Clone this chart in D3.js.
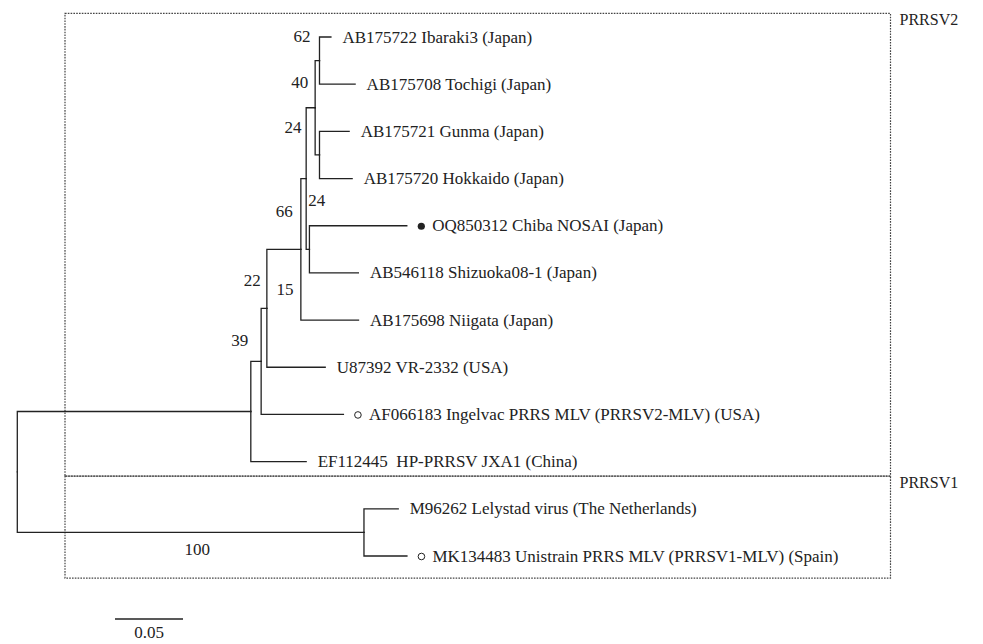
<!DOCTYPE html>
<html>
<head>
<meta charset="utf-8">
<script src="https://cdn.jsdelivr.net/npm/d3@7"></script>
<style>
  html, body { margin: 0; padding: 0; background: #fff; }
  svg { display: block; font-family: "Liberation Serif", "Times New Roman", "DejaVu Serif", serif; }
</style>
</head>
<body>
<svg id="tree" width="983" height="644"></svg>
<script>
// tree topology: node, its parent and the branch length (substitutions / site)
const nodeIds = ["root", "P2", "A", "C", "D", "E", "H", "I", "Ibaraki3", "Tochigi", "J", "Gunma", "Hokkaido",
    "F", "Chiba", "Shizuoka", "Niigata", "VR2332", "Ingelvac", "JXA1", "P1", "Lelystad", "Unistrain"];
const parentIds = [null, "root", "P2", "A", "C", "D", "E", "H", "I", "I", "H", "J", "J",
    "E", "F", "F", "D", "C", "A", "P2", "root", "P1", "P1"];
const branchLengths = [0, 0.1717, 0.0076, 0.0042, 0.0250, 0.0039, 0.0066, 0.0032, 0.0084, 0.0262, 0.0032, 0.0218, 0.0240,
    0.0024, 0.0716, 0.0360, 0.0424, 0.0429, 0.0605, 0.0407, 0.2549, 0.0252, 0.0316];

// tip labels
const tipIds = ["Ibaraki3", "Tochigi", "Gunma", "Hokkaido", "Chiba", "Shizuoka", "Niigata",
    "VR2332", "Ingelvac", "JXA1", "Lelystad", "Unistrain"];
const tipNames = [
    "AB175722 Ibaraki3 (Japan)",
    "AB175708 Tochigi (Japan)",
    "AB175721 Gunma (Japan)",
    "AB175720 Hokkaido (Japan)",
    "OQ850312 Chiba NOSAI (Japan)",
    "AB546118 Shizuoka08-1 (Japan)",
    "AB175698 Niigata (Japan)",
    "U87392 VR-2332 (USA)",
    "AF066183 Ingelvac PRRS MLV (PRRSV2-MLV) (USA)",
    "EF112445\u00a0 HP-PRRSV JXA1 (China)",
    "M96262 Lelystad virus (The Netherlands)",
    "MK134483 Unistrain PRRS MLV (PRRSV1-MLV) (Spain)"
];
// filled = field strain of this study, open = vaccine strain
const tipMarks = ["", "", "", "", "filled", "", "", "", "open", "", "", "open"];

// bootstrap support
const bootNodes = ["I", "H", "J", "E", "D", "F", "C", "A", "P1"];
const bootValues = [62, 40, 24, 24, 66, 15, 22, 39, 100];

const cladeNames = ["PRRSV2", "PRRSV1"];
const scaleBarLength = 0.05;

const svg = d3.select("#tree");
const ink = "#222";
const fontSize = 17;

// build hierarchy
const rows = nodeIds.map((id, i) => ({ id: id, parent: parentIds[i], bl: branchLengths[i] }));
const root = d3.stratify()
    .id(d => d.id)
    .parentId(d => d.parent)(rows);

const nTips = tipIds.length;
// cluster pads half a row at each end, so size = nTips puts tips at 0.5 .. nTips-0.5
d3.cluster().size([nTips, 1]).separation(() => 1)(root);
root.eachBefore(n => {
    n.len = n.parent ? n.parent.len + n.data.bl : 0;
    n.row = n.x - 0.5;
});

const xScale = d3.scaleLinear().domain([0, 0.3]).range([17.3, 17.3 + 0.3 * 1360]);
const yScale = d3.scaleLinear().domain([0, nTips - 1]).range([37, 556]);

const X = n => xScale(n.len);
const Y = n => yScale(n.row);

// clade boxes (dotted)
const boxLeft = 65, boxRight = 890.5;
const cladeRows = [[-0.5, 9.305], [9.305, 11.467]];
svg.append("g")
    .selectAll("rect")
    .data(cladeRows)
    .join("rect")
    .attr("x", boxLeft)
    .attr("y", d => yScale(d[0]))
    .attr("width", boxRight - boxLeft)
    .attr("height", d => yScale(d[1]) - yScale(d[0]))
    .attr("fill", "none")
    .attr("stroke", "#444")
    .attr("stroke-width", 1.2)
    .attr("stroke-dasharray", "1.6,1.2");

svg.append("g")
    .selectAll("text")
    .data(cladeNames)
    .join("text")
    .attr("x", boxRight + 9)
    .attr("y", (d, i) => yScale(cladeRows[i][0]) + 6)
    .attr("dominant-baseline", "central")
    .attr("font-size", 16)
    .attr("fill", ink)
    .text(d => d);

// branches: elbow from parent down/up to child, then across
svg.append("g")
    .selectAll("path")
    .data(root.links())
    .join("path")
    .attr("d", l => `M${X(l.source)},${Y(l.source)}V${Y(l.target)}H${X(l.target)}`)
    .attr("fill", "none")
    .attr("stroke", ink)
    .attr("stroke-width", 1.3)
    .attr("stroke-linecap", "square");

// tips
const leaves = root.leaves();
const tipG = svg.append("g").attr("font-size", fontSize).attr("fill", ink);
leaves.forEach(leaf => {
    const i = tipIds.indexOf(leaf.id);
    const mark = tipMarks[i];
    const x0 = X(leaf), y0 = Y(leaf);
    if (mark) {
        tipG.append("circle")
            .attr("cx", x0 + 14.5)
            .attr("cy", y0 + 0.5)
            .attr("r", mark === "filled" ? 3.6 : 3.3)
            .attr("fill", mark === "filled" ? ink : "none")
            .attr("stroke", ink)
            .attr("stroke-width", mark === "filled" ? 0 : 1);
    }
    tipG.append("text")
        .attr("x", x0 + (mark ? 25.5 : 11.5))
        .attr("y", y0)
        .attr("dominant-baseline", "central")
        .text(tipNames[i]);
});

// bootstrap labels, nudged off the nodes the way the original figure has them
const nudge = {
    I: [-9, -24, "end"], H: [-7, -25, "end"], J: [-18, -27, "end"],
    E: [2, 22, "start"], D: [-8, -38, "end"], F: [-16, 40, "end"],
    C: [-6, -28, "end"], A: [-13, -21, "end"], P1: [-154, 17, "end"]
};
const bootG = svg.append("g").attr("font-size", fontSize).attr("fill", ink);
bootNodes.forEach((id, i) => {
    const n = root.find(d => d.id === id);
    const [dx, dy, anchor] = nudge[id];
    bootG.append("text")
        .attr("x", X(n) + dx)
        .attr("y", Y(n) + dy)
        .attr("text-anchor", anchor)
        .attr("dominant-baseline", "central")
        .text(bootValues[i]);
});

// scale bar
const barX = 115, barY = 619;
const barW = xScale(scaleBarLength) - xScale(0);
svg.append("line")
    .attr("x1", barX).attr("x2", barX + barW)
    .attr("y1", barY).attr("y2", barY)
    .attr("stroke", ink)
    .attr("stroke-width", 1.3);
svg.append("text")
    .attr("x", barX + barW / 2)
    .attr("y", barY + 13)
    .attr("text-anchor", "middle")
    .attr("dominant-baseline", "central")
    .attr("font-size", fontSize)
    .attr("fill", ink)
    .text(scaleBarLength.toFixed(2));
</script>
</body>
</html>
